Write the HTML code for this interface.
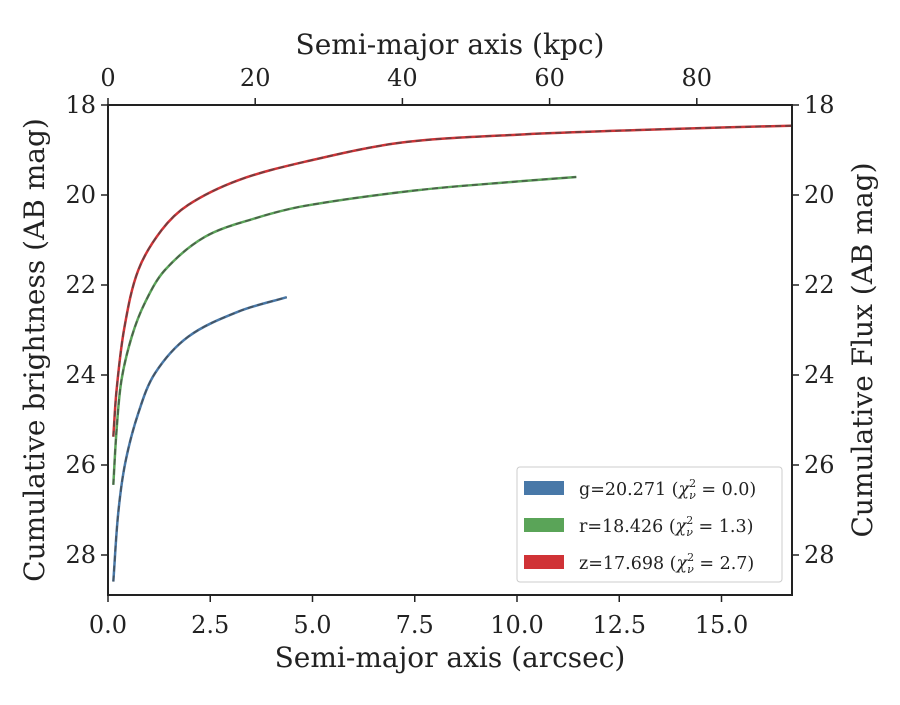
<!DOCTYPE html>
<html><head><meta charset="utf-8"><style>
body{margin:0;background:#fff}
svg text{font-family:"DejaVu Serif","Liberation Serif",serif;fill:#222}
</style></head><body>
<svg id="chart" width="900" height="700" viewBox="0 0 900 700" xmlns="http://www.w3.org/2000/svg">
<g id="plot"></g>
<g id="axes"></g>
<g>
<rect x="517" y="467" width="265" height="115" rx="3" fill="#fff" stroke="#ccc" stroke-width="1"/>
<rect x="524" y="481" width="40" height="14" fill="#4878a8"/>
<text x="579" y="495" font-size="17.5">g=20.271 (<tspan font-style="italic">χ</tspan><tspan font-size="11" dy="-8">2</tspan><tspan font-size="11" font-style="italic" dx="-7" dy="12">ν</tspan><tspan dy="-4"> = 0.0)</tspan></text>
<rect x="524" y="518" width="40" height="14" fill="#5aa458"/>
<text x="579" y="532" font-size="17.5">r=18.426 (<tspan font-style="italic">χ</tspan><tspan font-size="11" dy="-8">2</tspan><tspan font-size="11" font-style="italic" dx="-7" dy="12">ν</tspan><tspan dy="-4"> = 1.3)</tspan></text>
<rect x="524" y="555" width="40" height="14" fill="#d03236"/>
<text x="579" y="569" font-size="17.5">z=17.698 (<tspan font-style="italic">χ</tspan><tspan font-size="11" dy="-8">2</tspan><tspan font-size="11" font-style="italic" dx="-7" dy="12">ν</tspan><tspan dy="-4"> = 2.7)</tspan></text>
</g>
</svg>
<script>
const xTicks=[0,2.5,5,7.5,10,12.5,15];
const xTickLabels=["0.0","2.5","5.0","7.5","10.0","12.5","15.0"];
const kpcTicks=[0,20,40,60,80];
const yTicks=[18,20,22,24,26,28];
const gX=[0.13,0.25,0.42,0.74,1.15,1.96,3.19,4.37];
const gY=[28.59,27.07,25.96,24.85,23.96,23.15,22.59,22.27];
const rX=[0.13,0.21,0.33,0.58,0.9,1.39,2.37,3.59,4.82,7.5,10,11.45];
const rY=[26.44,25.22,24.11,23.15,22.4,21.67,20.93,20.52,20.24,19.9,19.7,19.6];
const zX=[0.13,0.21,0.4,0.74,1.31,1.96,3.19,4.82,7.14,10,12.5,15,16.7];
const zY=[25.37,24.33,22.95,21.67,20.78,20.22,19.67,19.26,18.84,18.66,18.57,18.5,18.46];
const L=108,R=792,T=105,B=595;
const sx=v=>L+v*40.9, sy=m=>T+(m-18)*45, sk=k=>L+k*7.36;
const NS="http://www.w3.org/2000/svg";
function mk(tag,attrs,parent){const e=document.createElementNS(NS,tag);for(const k in attrs)e.setAttribute(k,attrs[k]);parent.appendChild(e);return e;}
function pathD(xs,ys){const p=xs.map((x,i)=>[sx(x),sy(ys[i])]);let d="M"+p[0][0]+","+p[0][1];
for(let i=0;i<p.length-1;i++){const p0=p[i-1]||p[i],p1=p[i],p2=p[i+1],p3=p[i+2]||p2;
// centripetal-ish tangent scaling by segment length
const d1=Math.hypot(p2[0]-p1[0],p2[1]-p1[1]);
const da=Math.hypot(p2[0]-p0[0],p2[1]-p0[1])||1, db=Math.hypot(p3[0]-p1[0],p3[1]-p1[1])||1;
const c1=[p1[0]+(p2[0]-p0[0])/da*d1/3,p1[1]+(p2[1]-p0[1])/da*d1/3];
const c2=[p2[0]-(p3[0]-p1[0])/db*d1/3,p2[1]-(p3[1]-p1[1])/db*d1/3];
d+=" C"+c1[0]+","+c1[1]+" "+c2[0]+","+c2[1]+" "+p2[0]+","+p2[1];}return d;}
const plot=document.getElementById('plot'),axes=document.getElementById('axes');
[["g",gX,gY,"#4878a8"],["r",rX,rY,"#5aa458"],["z",zX,zY,"#d03236"]].forEach(([n,xs,ys,c])=>{
const a=mk('path',{d:pathD(xs,ys),fill:"none",stroke:c,"stroke-width":2.5},plot);


const b=mk('path',{d:pathD(xs,ys),fill:"none",stroke:"#444","stroke-opacity":0.7,"stroke-width":1.8,"stroke-dasharray":"6,4"},plot);


});
const fr=mk('rect',{x:L,y:T,width:R-L,height:B-T,fill:"none",stroke:"#222","stroke-width":2},axes);


xTicks.forEach((v,i)=>{mk('line',{x1:sx(v),x2:sx(v),y1:B,y2:B+7,stroke:"#222","stroke-width":1.5},axes);
const t=mk('text',{x:sx(v),y:B+38,"font-size":24,"text-anchor":"middle"},axes);t.textContent=xTickLabels[i];

});
kpcTicks.forEach(k=>{mk('line',{x1:sk(k),x2:sk(k),y1:T,y2:T-7,stroke:"#222","stroke-width":1.5},axes);
const t=mk('text',{x:sk(k),y:T-19,"font-size":24,"text-anchor":"middle"},axes);t.textContent=k;

});
yTicks.forEach(m=>{mk('line',{x1:L,x2:L-7,y1:sy(m),y2:sy(m),stroke:"#222","stroke-width":1.5},axes);
mk('line',{x1:R,x2:R+7,y1:sy(m),y2:sy(m),stroke:"#222","stroke-width":1.5},axes);
const t=mk('text',{x:L-12,y:sy(m)+8,"font-size":24,"text-anchor":"end"},axes);t.textContent=m;


const t2=mk('text',{x:R+12,y:sy(m)+8,"font-size":24,"text-anchor":"start"},axes);t2.textContent=m;

});
const lab=(txt,x,y,rot,name)=>{const t=mk('text',{x:x,y:y,"font-size":28,"text-anchor":"middle",transform:rot?`rotate(-90 ${x} ${y})`:""},axes);t.textContent=txt;

};
lab("Semi-major axis (arcsec)",450,667,false,'x-axis-title');
lab("Semi-major axis (kpc)",450,54,false,'top-x-axis-title');
lab("Cumulative brightness (AB mag)",44,350,true,'y-axis-title');
lab("Cumulative Flux (AB mag)",872,350,true,'right-y-axis-title');
</script>
</body></html>
